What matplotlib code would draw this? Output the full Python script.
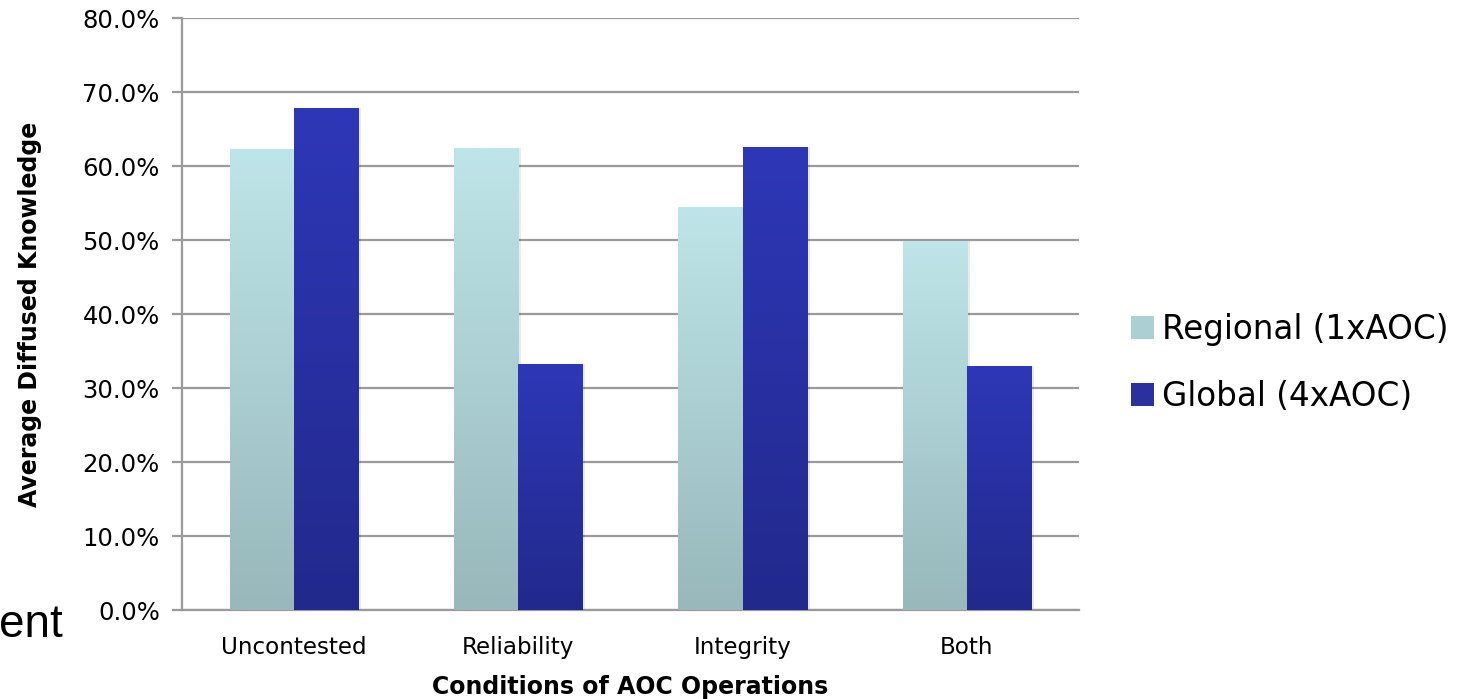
import numpy as np
import matplotlib
matplotlib.use("Agg")
import matplotlib.pyplot as plt
from matplotlib.colors import LinearSegmentedColormap
from matplotlib.patches import Patch
from matplotlib.ticker import FuncFormatter, MultipleLocator

categories = ["Uncontested", "Reliability", "Integrity", "Both"]
regional = [62.3, 62.4, 54.5, 49.9]
global_ = [67.8, 33.2, 62.6, 33.0]
series_names = ["Regional (1xAOC)", "Global (4xAOC)"]

reg_top, reg_bot = "#BEE5E9", "#98B8BB"
glb_top, glb_bot = "#2E37B7", "#22298C"

plt.rcParams['font.family'] = ['DejaVu Sans']
fig = plt.figure(figsize=(14.58, 6.99), dpi=100)
ax = fig.add_axes([182/1458, 1-610/699, (1079-182)/1458, (610-18)/699])

x = np.arange(len(categories))
w = 0.287
grid_c = "#9A9A9A"

def grad_bars(bars, top, bot):
    cmap = LinearSegmentedColormap.from_list("g", [bot, top])
    grad = np.linspace(0, 1, 256).reshape(-1, 1)
    for b in bars:
        x0, y0 = b.get_x(), b.get_y()
        bw, bh = b.get_width(), b.get_height()
        # soft shadow
        ax.bar(x0 + bw/2 + 0.012, bh + 0.25, bw, bottom=-0.25, color="#000000",
               alpha=0.08, zorder=2, linewidth=0)
        im = ax.imshow(grad, cmap=cmap, origin="lower", aspect="auto",
                       extent=[x0, x0 + bw, y0, y0 + bh], zorder=3)
        im.set_clip_path(b)

b1 = ax.bar(x - w/2, regional, w, facecolor="none", edgecolor="none", zorder=3)
b2 = ax.bar(x + w/2, global_, w, facecolor="none", edgecolor="none", zorder=3)
grad_bars(b1, reg_top, reg_bot)
grad_bars(b2, glb_top, glb_bot)

ax.set_xlim(-0.5, len(categories) - 0.5)
ax.set_ylim(0, 80)
ax.yaxis.set_major_locator(MultipleLocator(10))
ax.yaxis.set_major_formatter(FuncFormatter(lambda v, p: f"{v:.1f}%"))
ax.grid(axis="y", color=grid_c, linewidth=1.6, zorder=1)
ax.set_axisbelow(True)
for s in ["top", "right"]:
    ax.spines[s].set_visible(False)
for s in ["left", "bottom"]:
    ax.spines[s].set_color(grid_c)
    ax.spines[s].set_linewidth(1.6)
ax.set_xticks(x)
ax.set_xticklabels(categories)
ax.tick_params(axis="x", length=0, pad=19, labelsize=16.6)
ax.tick_params(axis="y", length=7, width=1.6, color=grid_c, pad=9, labelsize=17.5)

ax.set_xlabel("Conditions of AOC Operations", fontsize=17, fontweight="bold", labelpad=11)
ax.set_ylabel("Average Diffused Knowledge", fontsize=17, fontweight="bold", labelpad=29)

handles = [Patch(facecolor="#ACCFD3", edgecolor="none"),
           Patch(facecolor="#2A319F", edgecolor="none")]
fig.legend(handles, series_names, loc="center left", bbox_to_anchor=(1131/1458, 1-363/699),
           frameon=False, fontsize=23.5, handlelength=0.7, handleheight=0.7,
           handletextpad=0.26, labelspacing=1.05, borderaxespad=0, borderpad=0)

fig.text(63/1458, 1-637/699, "ent", ha="right", va="baseline",
         fontsize=33, family=["Liberation Sans", "DejaVu Sans"])

fig.savefig("out.png", dpi=100, facecolor="white")
